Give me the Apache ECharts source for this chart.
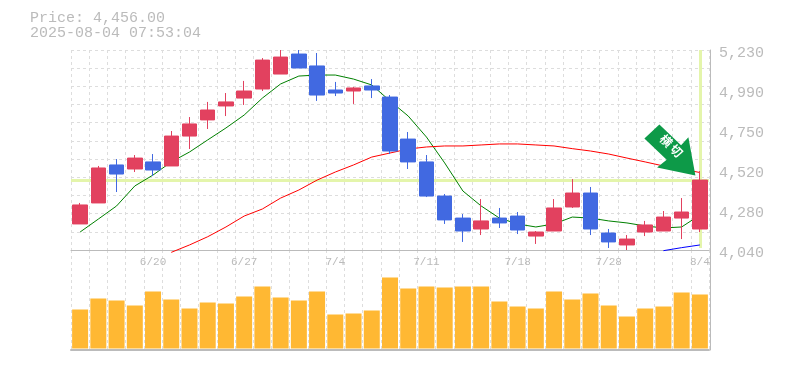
<!DOCTYPE html>
<html><head><meta charset="utf-8">
<style>html,body{margin:0;padding:0;background:#fff}#c{width:785px;height:370px}</style>
<script src="https://cdn.jsdelivr.net/npm/echarts@6/dist/echarts.min.js"></script>
</head><body><div id="c"></div>
<script>
const priceLabel = 'Price: 4,456.00';
const timeLabel = '2025-08-04 07:53:04';
const currentPrice = 4456;
const signalText = '横\u2009切';
const categories = ['6/16','6/17','6/18','6/19','6/20','6/23','6/24','6/25','6/26','6/27','6/30','7/1','7/2','7/3','7/4','7/7','7/8','7/9','7/10','7/11','7/14','7/15','7/16','7/17','7/18','7/22','7/23','7/24','7/25','7/28','7/29','7/30','7/31','8/1','8/4'];
const priceTicks = [4040,4278,4516,4754,4992,5230];
const opens  = [4195,4320,4546,4522,4564,4540,4718,4814,4897,4944,4998,5087,5206,5135,4992,4986,5016,4950,4700,4564,4361,4230,4165,4230,4242,4123,4153,4296,4379,4141,4070,4147,4153,4230,4165];
const closes = [4308,4528,4492,4587,4516,4718,4790,4873,4921,4986,5170,5188,5123,4962,4974,5004,4992,4629,4564,4361,4219,4153,4213,4201,4159,4147,4290,4379,4165,4088,4105,4189,4236,4266,4456];
const lows   = [4195,4320,4385,4504,4480,4540,4641,4760,4837,4903,4986,5087,5123,4927,4956,4909,4944,4611,4522,4355,4195,4088,4129,4171,4135,4076,4153,4290,4129,4052,4040,4123,4153,4105,4147];
const highs  = [4320,4540,4581,4605,4611,4748,4831,4921,4974,5046,5182,5230,5230,5212,5040,5010,5057,4962,4742,4605,4373,4254,4343,4290,4266,4153,4343,4462,4415,4165,4129,4213,4272,4349,4510];
const maShort = [4147,4224,4302,4421,4486,4564,4623,4695,4766,4843,4944,5028,5075,5081,5081,5057,5022,4927,4837,4712,4558,4391,4302,4230,4195,4177,4195,4236,4230,4213,4201,4183,4171,4177,4248];
const maMid = ['-','-','-','-','-',4026,4070,4119,4177,4242,4284,4349,4397,4456,4504,4546,4593,4617,4641,4653,4659,4659,4665,4671,4671,4665,4659,4643,4629,4611,4587,4564,4540,4522,4501];
const maLong = ['-','-','-','-','-','-','-','-','-','-','-','-','-','-','-','-','-','-','-','-','-','-','-','-','-','-','-','-','-','-','-','-',4036,4054,4070];
const volumes = [39,50,48,43,57,49,40,46,45,52,62,51,48,57,34,35,38,71,60,62,61,62,62,47,42,40,57,49,55,43,32,40,42,56,54];

const GREY = '#bbbbbb', MONO = '"Liberation Mono", monospace';
const grid = {color:'#dddddd', type:[3,3], width:1};
const line = (name, data, color) => ({name, type:'line', data, xAxisIndex:0, yAxisIndex:0, showSymbol:false, smooth:false, clip:false, z:2, silent:true, lineStyle:{color, width:1}});
const fmtPrice = v => (Math.round(v/10)*10).toLocaleString('en-US');

const option = {
  animation:false,
  backgroundColor:'#ffffff',
  title:{text:priceLabel+'\n'+timeLabel, left:30, top:11, padding:0, textStyle:{fontFamily:MONO, fontSize:15, fontWeight:'normal', color:GREY, lineHeight:15}},
  grid:[{left:71,width:638,top:50,height:200},{left:71,width:638,top:250,height:100}],
  xAxis:[
    {type:'category', gridIndex:0, data:categories, boundaryGap:true,
     axisLine:{onZero:false, lineStyle:{color:GREY,width:1}}, axisTick:{show:false},
     axisLabel:{interval:i=>i%5===4, color:GREY, fontFamily:MONO, fontSize:11, margin:7, showMaxLabel:true, hideOverlap:false},
     splitLine:{show:true, interval:0, lineStyle:grid}},
    {type:'category', gridIndex:1, data:categories, boundaryGap:true,
     axisLine:{onZero:false, lineStyle:{color:GREY,width:2}}, axisTick:{show:false}, axisLabel:{show:false},
     splitLine:{show:true, interval:0, lineStyle:grid}}
  ],
  yAxis:[
    {type:'value', gridIndex:0, position:'right', offset:1, min:priceTicks[0], max:priceTicks[priceTicks.length-1], scale:true,
     axisLine:{show:true,onZero:false,lineStyle:{color:GREY,width:1}}, axisTick:{show:false}, splitLine:{show:false},
     axisLabel:{customValues:priceTicks, formatter:fmtPrice, color:GREY, fontFamily:MONO, fontSize:15, margin:9, verticalAlign:'top', lineHeight:6}},
    {type:'value', gridIndex:0, position:'left', min:0, max:11, interval:1,
     axisLine:{show:false}, axisTick:{show:false}, axisLabel:{show:false}, splitLine:{show:true, lineStyle:grid}},
    {type:'value', gridIndex:1, position:'right', offset:1, min:-1.5, max:98.5,
     axisLine:{show:true,onZero:false,lineStyle:{color:GREY,width:1}}, axisTick:{show:false}, axisLabel:{show:false}, splitLine:{show:false}}
  ],
  series:[
    {name:'guides', type:'line', data:[], xAxisIndex:0, yAxisIndex:0, z:1, silent:true,
     markLine:{silent:true, z:1, symbol:'none', animation:false, label:{show:false},
       lineStyle:{color:'#e4f5ab', width:3, type:'solid'},
       data:[{yAxis:currentPrice},
             [{xAxis:'8/4',yAxis:priceTicks[5]},{xAxis:'8/4',yAxis:4052}]]}},
    line('MA short', maShort, '#008000'),
    line('MA mid', maMid, '#ff0000'),
    line('MA long', maLong, '#0000ff'),
    {name:'price', type:'candlestick', xAxisIndex:0, yAxisIndex:0, z:3, barWidth:15, silent:true,
     data:categories.map((c,i)=>[opens[i],closes[i],lows[i],highs[i]]),
     itemStyle:{color:'#e2415f',color0:'#4169e1',borderColor:'#e2415f',borderColor0:'#4169e1',borderWidth:1},
     markPoint:{silent:true, z:6, animation:false,
       data:[{coord:['8/4',highs[34]], symbol:'path://M696 175.7L689 137.7L681.7 145.7L660 125L645 139L667.3 160L657.7 167.7Z',
              symbolSize:[51,51], symbolKeepAspect:false, symbolOffset:[-30,-21],
              itemStyle:{color:'#0d9a48'},
              label:{show:true, formatter:signalText, position:'inside', offset:[-2,-4], rotate:-45, color:'#ffffff', fontSize:12, fontWeight:'bold', fontFamily:'"Noto Sans CJK JP"', textBorderWidth:0}}]}},
    {name:'volume', type:'bar', xAxisIndex:1, yAxisIndex:2, data:volumes, barWidth:16, silent:true, itemStyle:{color:'#ffb833'}}
  ]
};
echarts.init(document.getElementById('c'),null,{renderer:'canvas'}).setOption(option);
</script></body></html>
